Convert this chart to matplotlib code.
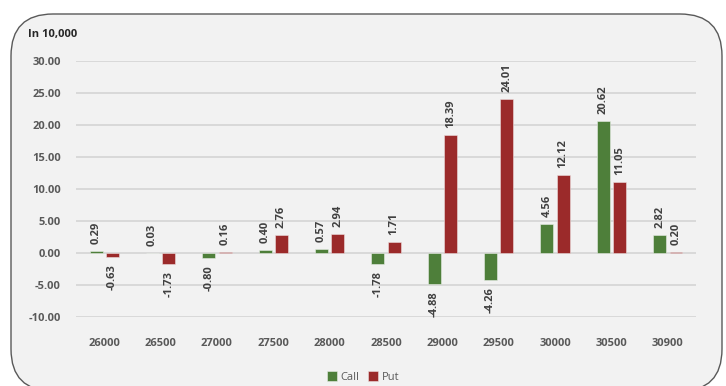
import matplotlib
matplotlib.use("Agg")
import matplotlib.pyplot as plt
import numpy as np
from matplotlib.patches import FancyBboxPatch

plt.rcParams['font.family'] = ['Open Sans', 'DejaVu Sans']

strikes = ["26000", "26500", "27000", "27500", "28000", "28500",
           "29000", "29500", "30000", "30500", "30900"]
call = [0.29, 0.03, -0.80, 0.40, 0.57, -1.78, -4.88, -4.26, 4.56, 20.62, 2.82]
put = [-0.63, -1.73, 0.16, 2.76, 2.94, 1.71, 18.39, 24.01, 12.12, 11.05, 0.20]

GREEN = "#4e7f3a"
RED = "#9b2a2a"
TXT = "#595959"

fig = plt.figure(figsize=(7.26, 3.86), dpi=100)
# rounded panel behind the chart
panel = FancyBboxPatch((0.11, -0.05), 7.11, 3.77,
                       boxstyle="round,pad=0,rounding_size=0.42",
                       transform=fig.dpi_scale_trans, facecolor="#f2f2f2",
                       edgecolor="#595959", lw=1.0, zorder=-10)
fig.patches.append(panel)

ax = fig.add_axes([0.1047, 0.1788, 0.854, 0.6632])
ax.set_facecolor("none")

x = np.arange(len(strikes))
w = 0.23
off = 0.145
b1 = ax.bar(x - off, call, w, color=GREEN, edgecolor="#e8ede6", lw=0.4, label="Call", zorder=3)
b2 = ax.bar(x + off, put, w, color=RED, edgecolor="#ecdede", lw=0.4, label="Put", zorder=3)

for bars, vals in ((b1, call), (b2, put)):
    for r, v in zip(bars, vals):
        cx = r.get_x() + r.get_width() / 2
        if v >= 0:
            ax.annotate(f"{v:.2f}", (cx, v), xytext=(0, 5), textcoords="offset points",
                        rotation=90, ha="center", va="bottom", fontsize=8,
                        fontweight="bold", color="#404040")
        else:
            ax.annotate(f"{v:.2f}", (cx, v), xytext=(0, -5), textcoords="offset points",
                        rotation=90, ha="center", va="top", fontsize=8,
                        fontweight="bold", color="#404040")

ax.set_xlim(-0.5, len(strikes) - 0.5)
ax.set_ylim(-10, 30)
ax.set_yticks(np.arange(-10, 31, 5))
ax.set_yticklabels([f"{t:.2f}" for t in np.arange(-10, 31, 5)])
ax.set_xticks(x)
ax.set_xticklabels(strikes)
ax.grid(axis="y", color="#d9d9d9", lw=1.4, zorder=0)
ax.set_axisbelow(True)
for s in ax.spines.values():
    s.set_visible(False)
ax.tick_params(length=0, colors=TXT, labelsize=8)
ax.tick_params(axis="x", pad=15)
ax.tick_params(axis="y", pad=11)
for lab in ax.get_xticklabels() + ax.get_yticklabels():
    lab.set_fontweight("bold")

fig.text(28 / 726, 1 - 35 / 386, "In 10,000", fontsize=8, fontweight="bold",
         color="#262626", va="center", ha="left")

fig.legend(handles=[b1, b2], labels=["Call", "Put"], loc="center",
           bbox_to_anchor=(0.5, 1 - 377 / 386), ncol=2, frameon=False,
           fontsize=8, handlelength=0.9, handleheight=0.9, columnspacing=0.8,
           handletextpad=0.3, labelcolor=TXT)

fig.savefig("out.png", dpi=100)
